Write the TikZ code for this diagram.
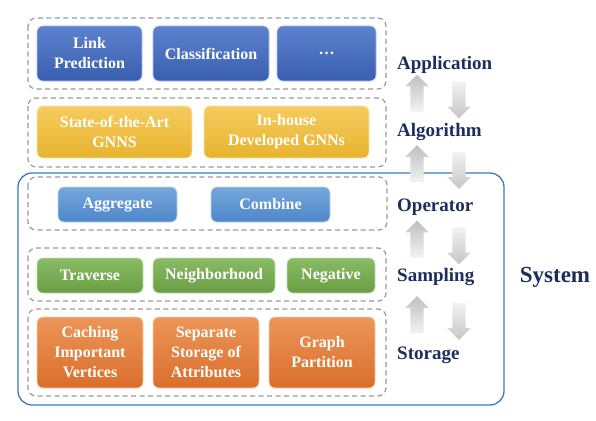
\documentclass[tikz,border=0pt]{standalone}
\usepackage{fontspec}
\setmainfont{Liberation Serif}
\usetikzlibrary{shapes.arrows}

\definecolor{apptop}{HTML}{5C82CE}
\definecolor{appbot}{HTML}{3A5EAF}
\definecolor{algtop}{HTML}{F6CB5E}
\definecolor{algbot}{HTML}{E8B42E}
\definecolor{optop}{HTML}{76A7DC}
\definecolor{opbot}{HTML}{4E86C9}
\definecolor{samptop}{HTML}{8ABB65}
\definecolor{sampbot}{HTML}{689E44}
\definecolor{stortop}{HTML}{EC9659}
\definecolor{storbot}{HTML}{DA6E2B}
\definecolor{navy}{HTML}{1C2D5E}
\definecolor{sysblue}{HTML}{3B78C3}

\tikzset{
	group/.style={draw=gray!80, dash pattern=on 5pt off 3.5pt, line width=1.2pt, rounded corners=8pt},
	layerbox/.style={rounded corners=6pt, text=white, align=center, inner sep=0pt, line width=0.8pt,
		font=\fontsize{16}{20}\selectfont\bfseries},
	appbox/.style={layerbox, top color=apptop, bottom color=appbot, draw=apptop!50!white},
	algbox/.style={layerbox, top color=algtop, bottom color=algbot, draw=algtop!50!white},
	opbox/.style={layerbox, top color=optop, bottom color=opbot, draw=optop!50!white},
	sampbox/.style={layerbox, top color=samptop, bottom color=sampbot, draw=samptop!50!white},
	storbox/.style={layerbox, top color=stortop, bottom color=storbot, draw=stortop!50!white},
	layer/.style={anchor=west, inner sep=0pt, text=navy, font=\fontsize{19}{22}\selectfont\bfseries},
	flow/.style={single arrow, inner sep=6.5pt, minimum height=37pt, single arrow head extend=5pt},
	upflow/.style={flow, shape border rotate=90, top color=gray!50, bottom color=gray!10},
	downflow/.style={flow, shape border rotate=270, top color=gray!10, bottom color=gray!45},
}

\begin{document}
\begin{tikzpicture}[x=1pt, y=-1pt]
	\useasboundingbox (0,0) rectangle (596,420);

	% system frame
	\draw[sysblue, line width=1.3pt, rounded corners=14pt] (18,173) rectangle (504,405);
	\node[text=navy, font=\fontsize{23}{26}\selectfont\bfseries] (system) at (555,277) {System};

	% application
	\draw[group] (28,18) rectangle (386,89);
	\node[appbox, minimum width=105pt, minimum height=55pt] (link) at (89.5,53.5) {Link\\Prediction};
	\node[appbox, minimum width=116pt, minimum height=55pt] (classif) at (211,53.5) {Classification};
	\node[appbox, minimum width=99pt, minimum height=55pt] (more) at (326.5,53.5) {…};

	% algorithm
	\draw[group] (28,98) rectangle (386,167);
	\node[algbox, minimum width=155pt, minimum height=52pt] (sota) at (114.5,132) {State-of-the-Art\\GNNS};
	\node[algbox, minimum width=165pt, minimum height=52pt] (inhouse) at (286.5,132) {In-house\\Developed GNNs};

	% operator
	\draw[group] (28,177) rectangle (387,230);
	\node[opbox, minimum width=119pt, minimum height=35pt] (aggr) at (117.5,204.5) {Aggregate};
	\node[opbox, minimum width=119pt, minimum height=35pt] (comb) at (270.5,204.5) {Combine};

	% sampling
	\draw[group] (28,248) rectangle (386,301);
	\node[sampbox, minimum width=106pt, minimum height=35pt] (trav) at (90,275.5) {Traverse};
	\node[sampbox, minimum width=122pt, minimum height=35pt] (neigh) at (214,275.5) {Neighborhood};
	\node[sampbox, minimum width=88pt, minimum height=35pt] (neg) at (331,275.5) {Negative};

	% storage
	\draw[group] (28,309) rectangle (386,396);
	\node[storbox, minimum width=106pt, minimum height=71pt] (cach) at (90,352.5) {Caching\\Important\\Vertices};
	\node[storbox, minimum width=106pt, minimum height=71pt] (sep) at (206,352.5) {Separate\\Storage of\\Attributes};
	\node[storbox, minimum width=106pt, minimum height=71pt] (part) at (322,352.5) {Graph\\Partition};

	% layer names
	\node[layer] (app) at (397,65) {Application};
	\node[layer] (alg) at (397,132) {Algorithm};
	\node[layer] (op) at (397,207) {Operator};
	\node[layer] (samp) at (397,277) {Sampling};
	\node[layer] (stor) at (397,355) {Storage};

	% flow between layers
	\foreach \y/\n in {96.5/1, 167/2, 242.5/3, 318/4} {
		\node[upflow] (up\n) at (417,\y) {};
		\node[downflow] (down\n) at (459,\y) {};
	}
\end{tikzpicture}
\end{document}
